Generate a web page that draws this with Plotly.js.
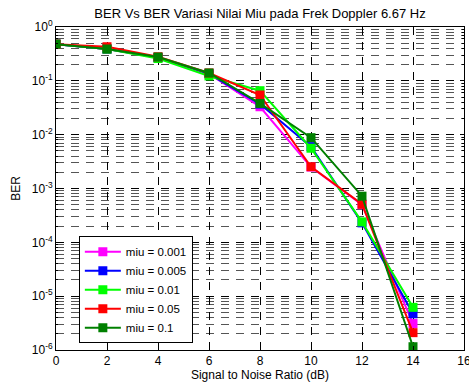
<!DOCTYPE html>
<html>
<head>
<meta charset="utf-8">
<script src="https://cdn.plot.ly/plotly-3.0.1.min.js"></script>
<style>html,body{margin:0;padding:0;background:#fff;}#chart{width:469px;height:385px;}</style>
</head>
<body>
<div id="chart"></div>
<script>
const snr = [0, 2, 4, 6, 8, 10, 12, 14];
const seriesNames = ["miu = 0.001", "miu = 0.005", "miu = 0.01", "miu = 0.05", "miu = 0.1"];
const berMiu0001 = [0.48, 0.39, 0.27, 0.135, 0.033, 0.0025, 0.0005, 3.1e-6];
const berMiu0005 = [0.48, 0.39, 0.27, 0.135, 0.037, 0.006, 0.00023, 4.7e-6];
const berMiu001  = [0.48, 0.39, 0.26, 0.123, 0.0656, 0.0056, 0.00024, 6.2e-6];
const berMiu005  = [0.48, 0.43, 0.28, 0.14, 0.0545, 0.00254, 0.00051, 2.1e-6];
const berMiu01   = [0.48, 0.39, 0.277, 0.14, 0.038, 0.0088, 0.00072, 1.15e-6];
const yTickVals = [1e-6, 1e-5, 1e-4, 1e-3, 1e-2, 1e-1, 1];
const yTickText = ["10<sup>-6</sup>", "10<sup>-5</sup>", "10<sup>-4</sup>", "10<sup>-3</sup>", "10<sup>-2</sup>", "10<sup>-1</sup>", "10<sup>0</sup>"];
const colors = ["#ff00ff", "#0000ff", "#00ff00", "#ff0000", "#008000"];
const allSeries = [berMiu0001, berMiu0005, berMiu001, berMiu005, berMiu01];

const traces = allSeries.map((vals, i) => ({
  x: snr, y: vals, name: seriesNames[i], type: "scatter", mode: "lines+markers",
  line: {color: colors[i], width: 2},
  marker: {symbol: "square", size: 9, color: colors[i]}
}));

const fontFam = "Liberation Sans, Arial, sans-serif";
const dashPat = "8px,7px";
const layout = {
  width: 469, height: 385,
  margin: {l: 56, r: 5, t: 27, b: 35},
  paper_bgcolor: "#fff", plot_bgcolor: "#fff",
  font: {family: fontFam, size: 11, color: "#000"},
  title: {text: "BER Vs BER Variasi Nilai Miu pada Frek Doppler 6.67 Hz", x: 0.5, xref: "paper", xanchor: "center", y: 0.966, yref: "container", yanchor: "middle", font: {size: 13, color: "#000"}},
  xaxis: {
    range: [0, 16], dtick: 2, tick0: 0,
    showline: true, linecolor: "#000", linewidth: 1, mirror: "ticks",
    ticks: "inside", ticklen: 4, tickcolor: "#000",
    ticklabeloverflow: "allow",
    tickfont: {size: 12},
    showgrid: true, gridcolor: "#000", gridwidth: 1, griddash: dashPat,
    zeroline: false,
    title: {text: "Signal to Noise Ratio (dB)", standoff: 2, font: {size: 12}}
  },
  yaxis: {
    type: "log", range: [-6, 0], tickmode: "array", tickvals: yTickVals, ticktext: yTickText,
    showline: true, linecolor: "#000", linewidth: 1, mirror: "ticks",
    ticks: "inside", ticklen: 4, tickcolor: "#000",
    tickfont: {size: 12},
    showgrid: true, gridcolor: "#000", gridwidth: 1, griddash: dashPat,
    zeroline: false,
    minor: {dtick: "D1", ticks: "inside", ticklen: 2, tickcolor: "#000", showgrid: true, gridcolor: "#555", gridwidth: 1, griddash: dashPat},
    title: {text: "BER", standoff: 8, font: {size: 12}}
  },
  showlegend: true,
  legend: {x: 0.056, y: 0.352, xanchor: "left", yanchor: "top", bgcolor: "#fff", bordercolor: "#000", borderwidth: 1, font: {size: 11.5}, itemwidth: 36, entrywidth: 112, entrywidthmode: "pixels", tracegroupgap: 0}
};

Plotly.newPlot("chart", traces, layout, {displayModeBar: false, staticPlot: true});
</script>
</body>
</html>
